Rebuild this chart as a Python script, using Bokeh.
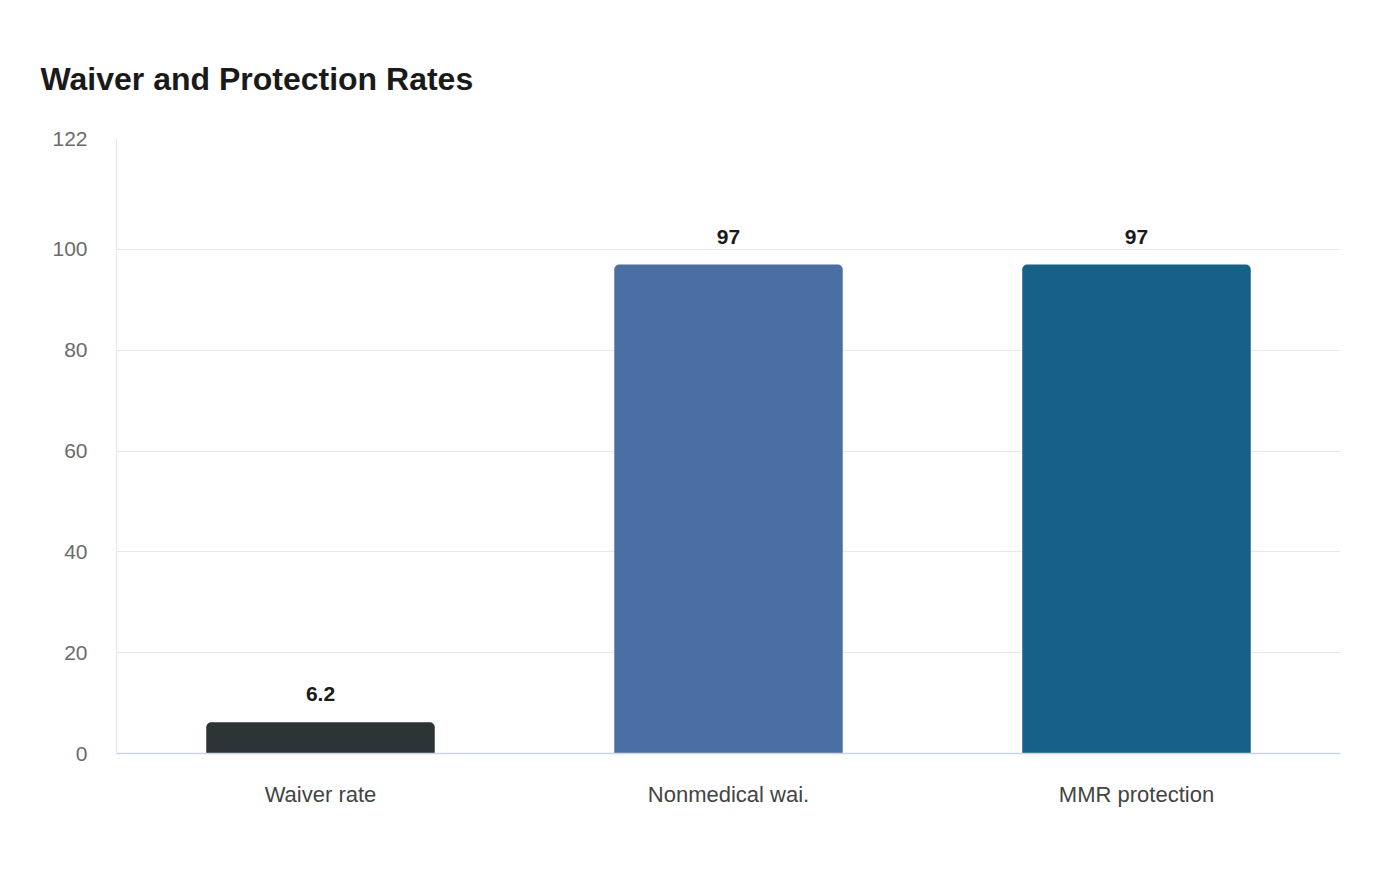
from bokeh.plotting import figure
from bokeh.models import ColumnDataSource, FixedTicker, Range1d
from bokeh.core.properties import value
from bokeh.embed import file_html
from bokeh.resources import INLINE

# Data
categories = ["Waiver rate", "Nonmedical wai.", "MMR protection"]
rates = [6.2, 97, 97]
rate_labels = ["6.2", "97", "97"]
bar_colors = ["#2d3436", "#4a6fa5", "#176087"]
y_ticks = [0, 20, 40, 60, 80, 100, 122]

FONT = "Liberation Sans"

source = ColumnDataSource(dict(cat=categories, val=rates, lab=rate_labels, color=bar_colors))

p = figure(
    x_range=categories,
    y_range=Range1d(0, 122),
    width=1400,
    height=880,
    output_backend="svg",
    toolbar_location=None,
    min_border_left=116,
    min_border_right=60,
    min_border_top=138,
    min_border_bottom=127,
    title="Waiver and Protection Rates",
)

p.vbar(
    x="cat", top="val", width=0.56, source=source,
    fill_color="color", line_color=None,
    border_radius=(5, 5, 0, 0),
)

p.text(
    x="cat", y="val", text="lab", source=source,
    text_align="center", text_baseline="bottom", y_offset=-21,
    text_font=value(FONT), text_font_size="21px", text_font_style="bold",
    text_color="#1a1a1a",
)

# Title
p.title.text_font = FONT
p.title.text_font_size = "32px"
p.title.text_font_style = "bold"
p.title.text_color = "#1a1a1a"
p.title.align = "left"
p.title.offset = -76
p.title.standoff = 84

# Outline and grid
p.outline_line_color = None
p.background_fill_color = "white"
p.border_fill_color = "white"
p.xgrid.grid_line_color = None
p.ygrid.grid_line_color = "#e8e8e8"
p.ygrid.grid_line_width = 1

# Y axis
p.yaxis.ticker = FixedTicker(ticks=y_ticks)
p.yaxis.axis_line_color = "#e6e6e6"
p.yaxis.major_tick_line_color = None
p.yaxis.minor_tick_line_color = None
p.yaxis.major_label_standoff = 23
p.yaxis.major_label_text_font = FONT
p.yaxis.major_label_text_font_size = "21px"
p.yaxis.major_label_text_color = "#6b6b6b"

# X axis
p.xaxis.axis_line_color = "#ccd6e0"
p.xaxis.axis_line_width = 1.5
p.xaxis.major_tick_line_color = None
p.xaxis.minor_tick_line_color = None
p.xaxis.major_label_standoff = 22
p.xaxis.major_label_text_font = FONT
p.xaxis.major_label_text_font_size = "22px"
p.xaxis.major_label_text_color = "#444444"

open("out.html", "w").write(file_html(p, INLINE))
